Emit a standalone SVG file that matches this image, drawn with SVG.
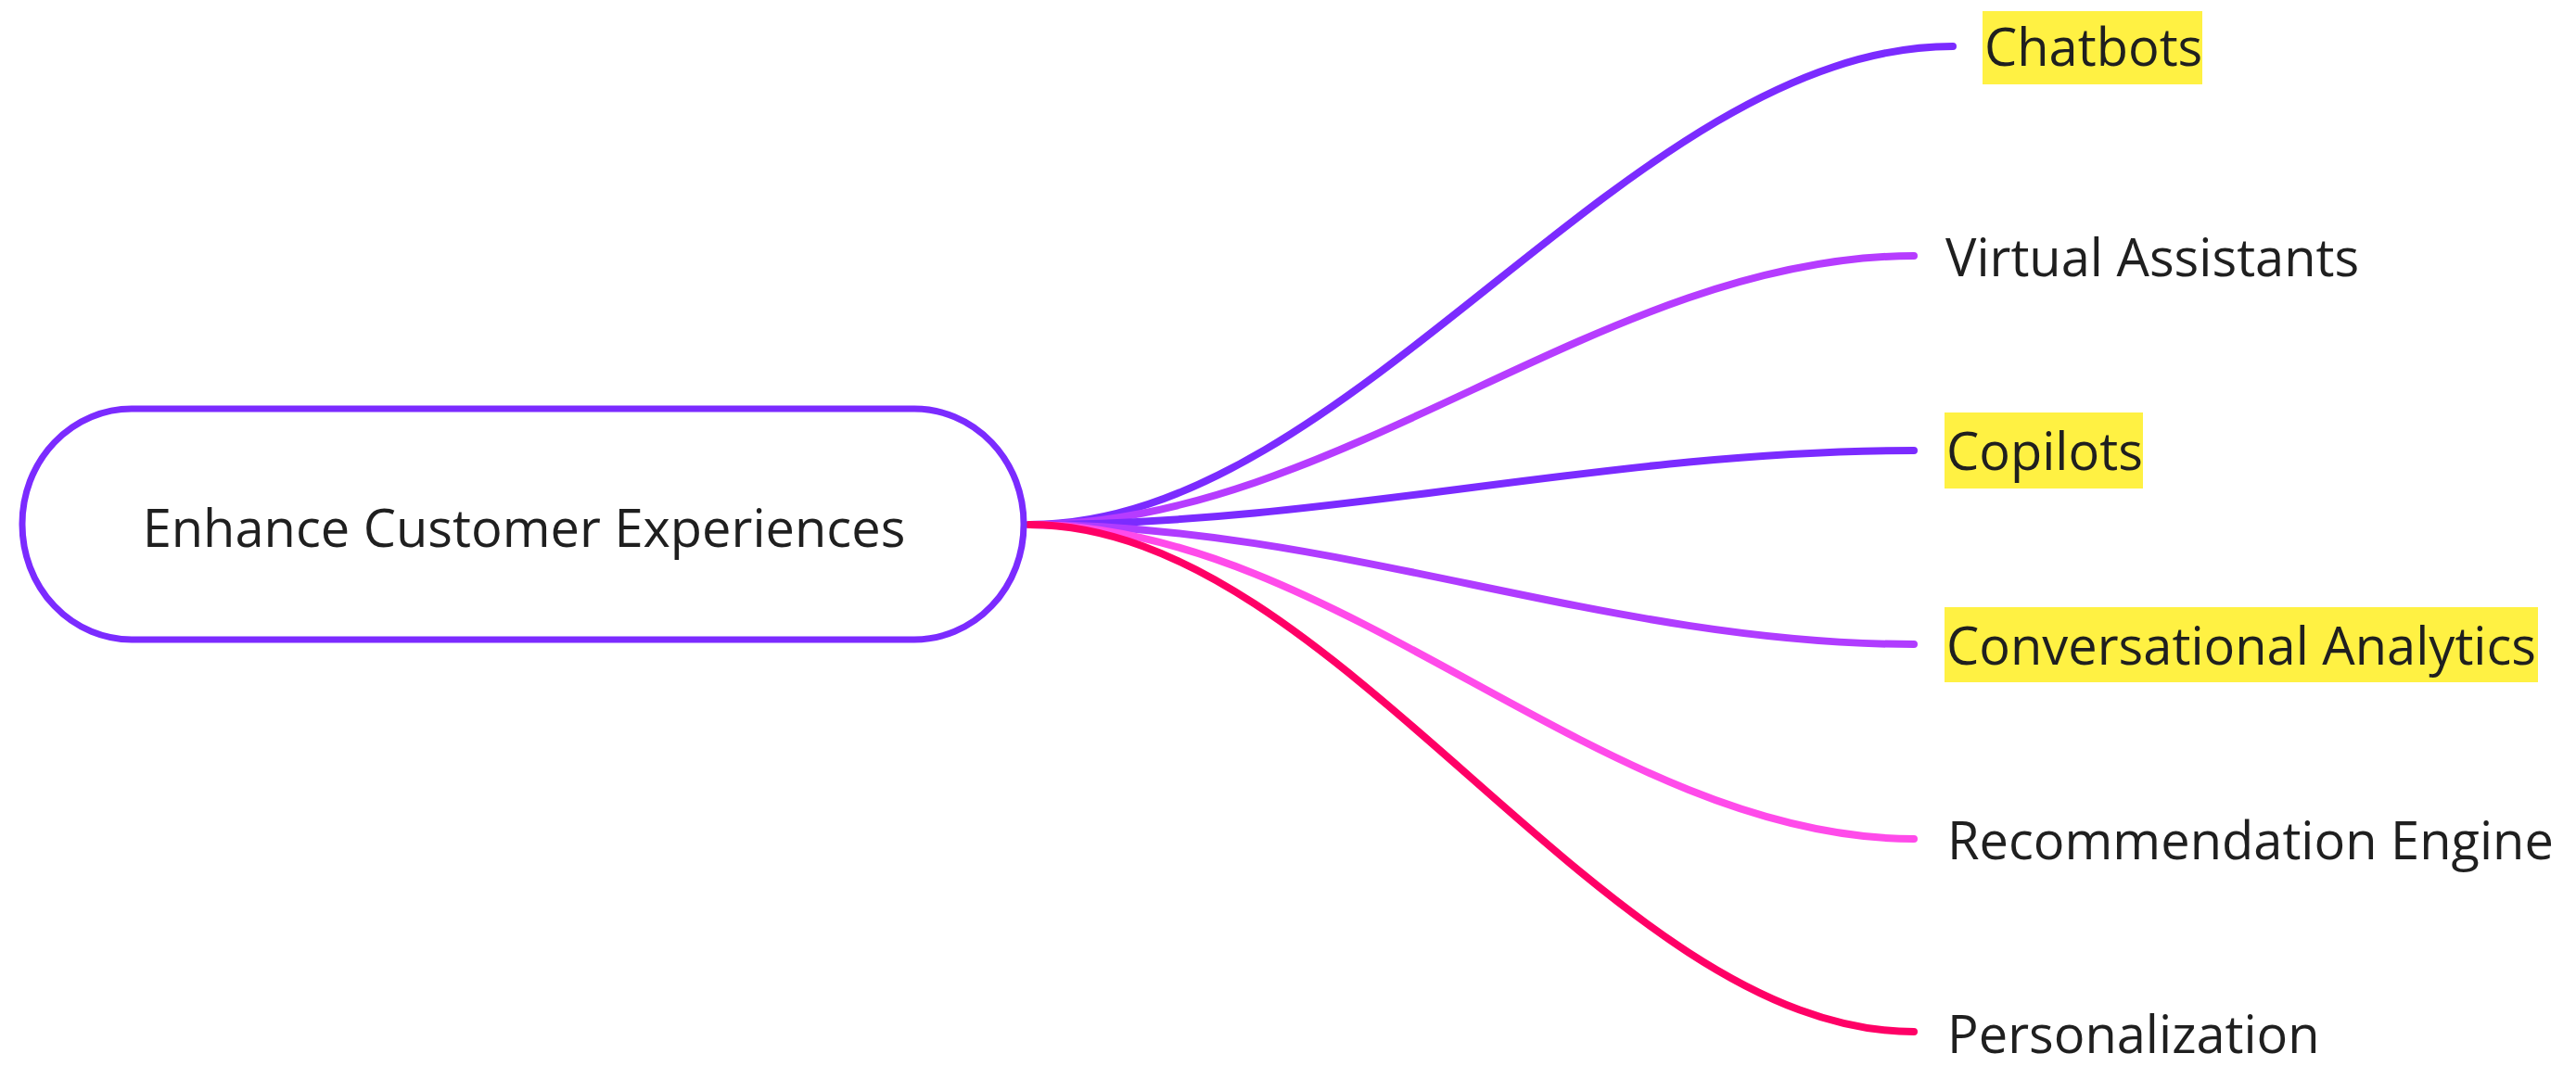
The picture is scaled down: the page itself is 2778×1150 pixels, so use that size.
<svg xmlns="http://www.w3.org/2000/svg" width="2778" height="1150" viewBox="0 0 2778 1150">
<style>
.lbl{font-family:"Open Sans","Noto Sans","Liberation Sans",sans-serif;font-size:56px;fill:#1f1f1f}
.edge{fill:none;stroke-width:8;stroke-linecap:round}
.hl{fill:#fff143}
</style>
<rect width="2778" height="1150" fill="#ffffff"/>
<g id="connectors">
<path class="edge" stroke="#7b2bff" d="M1110,566 C1459,566 1757,50 2106,50"/>
<path class="edge" stroke="#b63cff" d="M1110,566 C1444,566 1730,276 2064,276"/>
<path class="edge" stroke="#7b2bff" d="M1110,566 C1444,566 1730,486 2064,486"/>
<path class="edge" stroke="#b03cff" d="M1110,566 C1444,566 1730,695 2064,695"/>
<path class="edge" stroke="#ff4bea" d="M1110,566 C1444,566 1730,905 2064,905"/>
<path class="edge" stroke="#ff0066" d="M1110,566 C1444,566 1730,1113 2064,1113"/>
</g>
<g id="root">
<rect x="24" y="441" width="1080" height="249" rx="118" ry="124" fill="#ffffff" stroke="#7b2bff" stroke-width="7"/>
<text class="lbl" x="565" y="590" text-anchor="middle">Enhance Customer Experiences</text>
</g>
<g id="chatbots">
<rect class="hl" x="2138" y="12" width="237" height="79"/>
<text class="lbl" x="2140" y="71">Chatbots</text>
</g>
<g id="virtual-assistants">
<text class="lbl" x="2098" y="298">Virtual Assistants</text>
</g>
<g id="copilots">
<rect class="hl" x="2097" y="445" width="214" height="82"/>
<text class="lbl" x="2099" y="507">Copilots</text>
</g>
<g id="conversational-analytics">
<rect class="hl" x="2097" y="655" width="640" height="81"/>
<text class="lbl" x="2099" y="717">Conversational Analytics</text>
</g>
<g id="recommendation-engine">
<text class="lbl" x="2100" y="927">Recommendation Engine</text>
</g>
<g id="personalization">
<text class="lbl" x="2100" y="1136">Personalization</text>
</g>
</svg>
